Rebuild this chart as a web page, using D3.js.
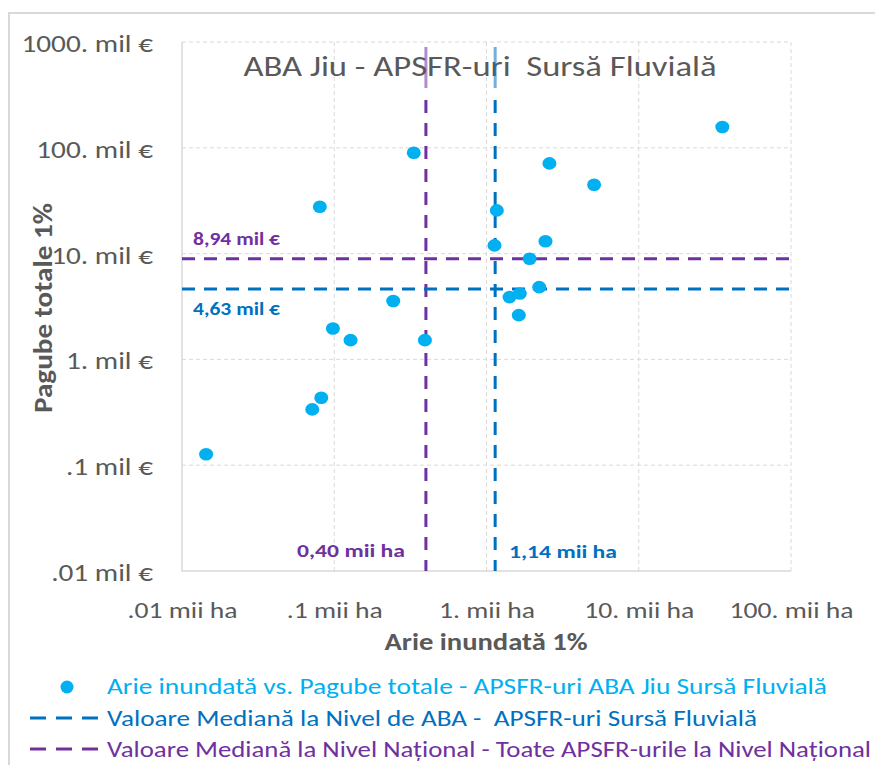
<!DOCTYPE html>
<html lang="ro">
<head>
<meta charset="UTF-8">
<title>ABA Jiu - APSFR-uri Sursă Fluvială</title>
<script src="https://d3js.org/d3.v7.min.js"></script>
<style>
  body { margin: 0; background: #fff; }
  svg { display: block; }
  text { font-family: Carlito, Lato, "Open Sans", sans-serif; white-space: pre; }
</style>
</head>
<body>
<svg id="chart" width="875" height="765"></svg>
<script>
// data: flooded area (mii ha) vs total damage (mil €)
const areaMiiHa = [0.0144, 0.0717, 0.0822, 0.098, 0.128, 0.244, 0.0804, 0.333, 0.394, 1.129,
                   1.169, 1.416, 1.63, 1.655, 1.92, 2.22, 2.44, 2.59, 5.09, 35.4]
const damageMilEur = [0.127, 0.337, 0.434, 1.96, 1.52, 3.56, 27.7, 89.7, 1.52, 11.95,
                      25.6, 3.88, 2.62, 4.2, 8.93, 4.82, 13.1, 71.2, 44.7, 157]

// medians
const medianAba = { area: 1.14, damage: 4.63, areaLabel: "1,14 mii ha", damageLabel: "4,63 mil €" }
const medianNat = { area: 0.40, damage: 8.94, areaLabel: "0,40 mii ha", damageLabel: "8,94 mil €" }

// ticks
const xTicks = [0.01, 0.1, 1, 10, 100]
const xTickLabels = [".01 mii ha", ".1 mii ha", "1. mii ha", "10. mii ha", "100. mii ha"]
const yTicks = [0.01, 0.1, 1, 10, 100, 1000]
const yTickLabels = [".01 mil €", ".1 mil €", "1. mil €", "10. mil €", "100. mil €", "1000. mil €"]

const legendLabels = [
  "Arie inundată vs. Pagube totale - APSFR-uri ABA Jiu Sursă Fluvială",
  "Valoare Mediană la Nivel de ABA -  APSFR-uri Sursă Fluvială",
  "Valoare Mediană la Nivel Național - Toate APSFR-urile la Nivel Național"
]

const cyan = "#00B0F0", blue = "#0070C0", purple = "#7030A0", grey = "#595959", light = "#d9d9d9"

const svg = d3.select("#chart")

// stretch text horizontally (the source font is wider than Lato)
function stretch(sel, k) {
  sel.each(function () {
    const w = this.getComputedTextLength()
    d3.select(this).attr("textLength", w * k).attr("lengthAdjust", "spacingAndGlyphs")
  })
}

// outer frame of the chart
svg.append("path")
   .attr("d", "M9,765 V13 H875")
   .attr("fill", "none").attr("stroke", light).attr("stroke-width", 2)

const pLeft = 182, pRight = 791, pTop = 42, pBottom = 571

const x = d3.scaleLog().domain([0.01, 100]).range([pLeft, pRight])
const y = d3.scaleLog().domain([0.01, 1000]).range([pBottom, pTop])

// grid
const grid = svg.append("g").attr("stroke", light).attr("stroke-width", 1).attr("stroke-dasharray", "4,3")
grid.selectAll(".gx").data(xTicks.slice(1)).enter().append("line")
    .attr("x1", d => x(d)).attr("x2", d => x(d)).attr("y1", pTop).attr("y2", pBottom)
grid.selectAll(".gy").data(yTicks.slice(1)).enter().append("line")
    .attr("y1", d => y(d)).attr("y2", d => y(d)).attr("x1", pLeft).attr("x2", pRight)

// axis lines (left + bottom)
svg.append("path")
   .attr("d", `M${pLeft},${pTop} V${pBottom} H${pRight}`)
   .attr("fill", "none").attr("stroke", light).attr("stroke-width", 1.5)

// tick labels via axes
const xAxis = d3.axisBottom(x).tickValues(xTicks).tickSize(0).tickPadding(0)
   .tickFormat((d, i) => xTickLabels[i])
const gx = svg.append("g").attr("transform", `translate(0,${pBottom})`).call(xAxis)
gx.select(".domain").remove()
gx.selectAll("text").attr("fill", grey).attr("font-size", 23).attr("dy", null).attr("y", 47)
   .attr("font-family", "Carlito, Lato, sans-serif")
   .call(stretch, 1.2)

const yAxis = d3.axisLeft(y).tickValues(yTicks).tickSize(0).tickPadding(29)
   .tickFormat((d, i) => yTickLabels[i])
const gy = svg.append("g").attr("transform", `translate(${pLeft},0)`).call(yAxis)
gy.select(".domain").remove()
gy.selectAll("text").attr("fill", grey).attr("font-size", 25).attr("dy", "0.38em")
   .attr("font-family", "Carlito, Lato, sans-serif")
   .call(stretch, 1.17)

// title
svg.append("text")
   .attr("x", 480).attr("y", 76).attr("text-anchor", "middle")
   .attr("fill", grey).attr("font-size", 28)
   .attr("textLength", 473).attr("lengthAdjust", "spacingAndGlyphs")
   .text("ABA Jiu - APSFR-uri  Sursă Fluvială")

// axis titles
svg.append("text")
   .attr("x", 486).attr("y", 650).attr("text-anchor", "middle")
   .attr("fill", grey).attr("font-size", 24).attr("font-weight", "bold")
   .attr("textLength", 203).attr("lengthAdjust", "spacingAndGlyphs")
   .text("Arie inundată 1%")
svg.append("text")
   .attr("transform", "translate(52,308) rotate(-90)").attr("text-anchor", "middle")
   .attr("fill", grey).attr("font-size", 27).attr("font-weight", "bold")
   .attr("textLength", 210).attr("lengthAdjust", "spacingAndGlyphs")
   .text("Pagube totale 1%")

// median lines
const medians = [
  { m: medianNat, color: purple },
  { m: medianAba, color: blue }
]
medians.forEach(({ m, color }) => {
  svg.append("line")
     .attr("x1", pLeft).attr("x2", pRight).attr("y1", y(m.damage)).attr("y2", y(m.damage))
     .attr("stroke", color).attr("stroke-width", 3).attr("stroke-dasharray", "13,9")
  svg.append("line")
     .attr("x1", x(m.area)).attr("x2", x(m.area)).attr("y1", 100).attr("y2", pBottom)
     .attr("stroke", color).attr("stroke-width", 3).attr("stroke-dasharray", "13,10")
  // faded top part behind the title
  svg.append("line")
     .attr("x1", x(m.area)).attr("x2", x(m.area)).attr("y1", 47).attr("y2", 88)
     .attr("stroke", color).attr("stroke-width", 3).attr("stroke-opacity", 0.55)
})

// median labels
svg.append("text").attr("x", 193).attr("y", 245).attr("fill", purple)
   .attr("font-size", 19).attr("font-weight", "bold")
   .attr("textLength", 87).attr("lengthAdjust", "spacingAndGlyphs").text(medianNat.damageLabel)
svg.append("text").attr("x", 193).attr("y", 315).attr("fill", blue)
   .attr("font-size", 19).attr("font-weight", "bold")
   .attr("textLength", 87).attr("lengthAdjust", "spacingAndGlyphs").text(medianAba.damageLabel)
svg.append("text").attr("x", 405).attr("y", 557).attr("fill", purple).attr("text-anchor", "end")
   .attr("font-size", 19).attr("font-weight", "bold")
   .attr("textLength", 108).attr("lengthAdjust", "spacingAndGlyphs").text(medianNat.areaLabel)
svg.append("text").attr("x", 509).attr("y", 558).attr("fill", blue)
   .attr("font-size", 19).attr("font-weight", "bold")
   .attr("textLength", 108).attr("lengthAdjust", "spacingAndGlyphs").text(medianAba.areaLabel)

// points
const points = areaMiiHa.map((a, i) => ({ a: a, d: damageMilEur[i] }))
svg.append("g").selectAll("ellipse").data(points).enter().append("ellipse")
   .attr("cx", p => x(p.a)).attr("cy", p => y(p.d))
   .attr("rx", 7).attr("ry", 6.3).attr("fill", cyan)

// legend
const legend = svg.append("g")
legend.append("ellipse").attr("cx", 67).attr("cy", 687).attr("rx", 6.5).attr("ry", 6.5).attr("fill", cyan)
legend.append("line").attr("x1", 30).attr("x2", 98).attr("y1", 718).attr("y2", 718)
   .attr("stroke", blue).attr("stroke-width", 3).attr("stroke-dasharray", "16,10")
legend.append("line").attr("x1", 30).attr("x2", 98).attr("y1", 749).attr("y2", 749)
   .attr("stroke", purple).attr("stroke-width", 3).attr("stroke-dasharray", "16,10")

const legendY = [694, 726, 757]
const legendW = [720, 650, 764]
const legendC = [cyan, blue, purple]
legendLabels.forEach((t, i) => {
  legend.append("text").attr("x", 107).attr("y", legendY[i])
     .attr("fill", legendC[i]).attr("font-size", 22)
     .attr("textLength", legendW[i]).attr("lengthAdjust", "spacingAndGlyphs")
     .text(t)
})
</script>
</body>
</html>
